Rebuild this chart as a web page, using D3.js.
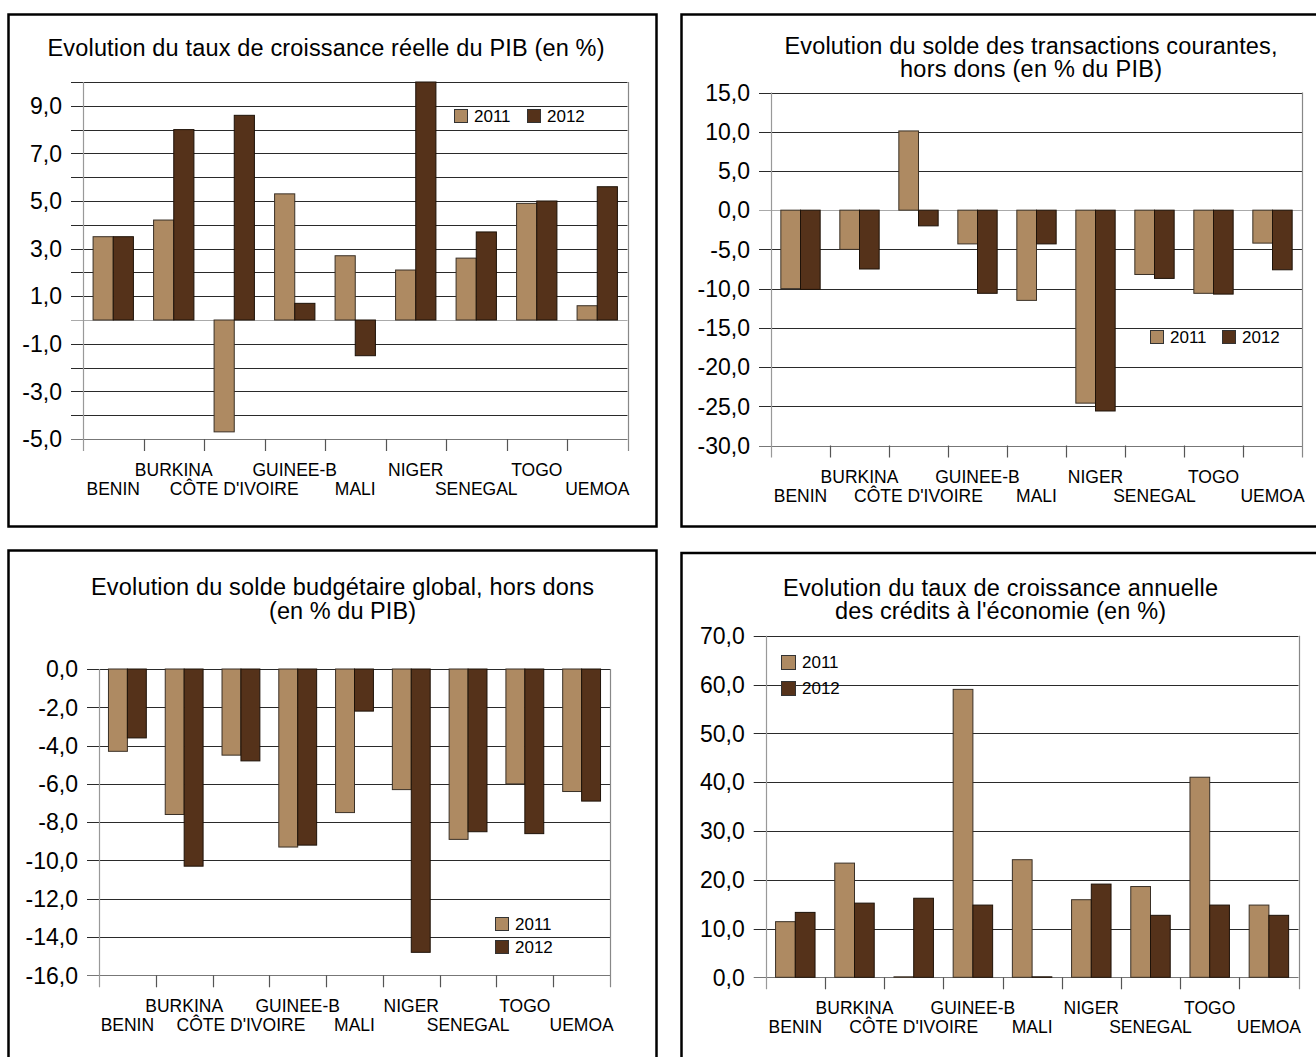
<!DOCTYPE html>
<html><head><meta charset="utf-8">
<script src="https://cdn.jsdelivr.net/npm/d3@7"></script>
<style>
body{margin:0;background:#fff}
svg{display:block}
text{font-family:"Liberation Sans",Arial,Helvetica,sans-serif;fill:#000}
</style>
</head><body>
<svg id="c" width="1316" height="1057"></svg>
<script>
// ---------- DATA ----------
const categories = ["BENIN","BURKINA","CÔTE D'IVOIRE","GUINEE-B","MALI","NIGER","SENEGAL","TOGO","UEMOA"];
const years = ["2011","2012"];

const pib2011 = [3.5, 4.2, -4.7, 5.3, 2.7, 2.1, 2.6, 4.9, 0.6];
const pib2012 = [3.5, 8.0, 8.6, 0.7, -1.5, 11.1, 3.7, 5.0, 5.6];
const pibTicks = [9, 7, 5, 3, 1, -1, -3, -5];

const transac2011 = [-10.0, -5.0, 10.1, -4.3, -11.5, -24.6, -8.2, -10.6, -4.2];
const transac2012 = [-10.1, -7.5, -2.0, -10.6, -4.3, -25.6, -8.7, -10.7, -7.6];
const transacTicks = [15, 10, 5, 0, -5, -10, -15, -20, -25, -30];

const budget2011 = [-4.3, -7.6, -4.5, -9.3, -7.5, -6.3, -8.9, -6.0, -6.4];
const budget2012 = [-3.6, -10.3, -4.8, -9.2, -2.2, -14.8, -8.5, -8.6, -6.9];
const budgetTicks = [0, -2, -4, -6, -8, -10, -12, -14, -16];

const credit2011 = [11.4, 23.4, 0.1, 59.0, 24.1, 15.9, 18.6, 41.0, 14.8];
const credit2012 = [13.3, 15.2, 16.2, 14.8, 0.1, 19.1, 12.7, 14.8, 12.7];
const creditTicks = [70, 60, 50, 40, 30, 20, 10, 0];

const titles = [
  ["Evolution du taux de croissance réelle du PIB (en %)"],
  ["Evolution du solde des transactions courantes,", "hors dons (en % du PIB)"],
  ["Evolution du solde budgétaire global, hors dons", "(en % du PIB)"],
  ["Evolution du taux de croissance annuelle", "des crédits à l'économie (en %)"]
];

const colors = {"2011": "#AE8A62", "2012": "#55321A"};

// ---------- LAYOUT ----------
const fmt = d3.formatLocale({decimal: ",", thousands: " ", grouping: [3], currency: ["", ""], minus: "-"}).format(".1f");

const panels = [
  { title: titles[0], tw: [557], tcx: 326, tby: [56],
    frame: [8.5, 14.5, 648, 512],
    xr: [83, 627.5], yr: [439, 82], dom: [-5, 10], gridStep: 1,
    ticks: pibTicks, s: [pib2011, pib2012], zeroGray: true,
    legend: {dir: "h", x: 454, y: 109, sw: 13, step: 73} },
  { title: titles[1], tw: [493, 262], tcx: 1031, tby: [54, 77],
    frame: [681.5, 14.5, 660, 512],
    xr: [771, 1302], yr: [445.5, 92.5], dom: [-30, 15], gridStep: 5,
    ticks: transacTicks, s: [transac2011, transac2012], zeroGray: true,
    legend: {dir: "h", x: 1150, y: 330, sw: 13, step: 72} },
  { title: titles[2], tw: [503, 147], tcx: 342.5, tby: [595, 619],
    frame: [8.5, 550.5, 648, 540],
    xr: [99, 610], yr: [975.3, 669], dom: [-16, 0], gridStep: 2,
    ticks: budgetTicks, s: [budget2011, budget2012], zeroGray: false,
    legend: {dir: "v", x: 495, y: 917, sw: 13, step: 23} },
  { title: titles[3], tw: [435, 331], tcx: 1000.5, tby: [596, 619],
    frame: [681.5, 553, 660, 540],
    xr: [765.7, 1298.5], yr: [977.3, 635.7], dom: [0, 70], gridStep: 10,
    ticks: creditTicks, s: [credit2011, credit2012], zeroGray: false,
    legend: {dir: "v", x: 781, y: 655, sw: 14, step: 26} }
];

const svg = d3.select("#c");

panels.forEach(p => {
  const g = svg.append("g");
  // frame
  g.append("rect").attr("x", p.frame[0]).attr("y", p.frame[1])
    .attr("width", p.frame[2]).attr("height", p.frame[3])
    .attr("fill", "#fff").attr("stroke", "#000").attr("stroke-width", 2.5);

  // title
  p.title.forEach((t, i) => {
    g.append("text").attr("x", p.tcx).attr("y", p.tby[i])
      .attr("text-anchor", "middle").attr("font-size", 23.5)
      .attr("textLength", p.tw[i]).attr("lengthAdjust", "spacing")
      .text(t);
  });

  const x = d3.scaleBand().domain(categories).range(p.xr).padding(0);
  const bw = x.bandwidth();
  const xs = d3.scaleBand().domain(years).range([bw / 6, bw * 5 / 6]).padding(0);
  const y = d3.scaleLinear().domain(p.dom).range(p.yr).clamp(true);

  const gridVals = d3.range(p.dom[0], p.dom[1] + p.gridStep / 2, p.gridStep);
  const x0 = p.xr[0], x1 = p.xr[1];
  const bottomY = y(p.dom[0]);

  // gridlines (extend left as tick marks)
  g.append("g").selectAll("line").data(gridVals).join("line")
    .attr("x1", x0 - 12).attr("x2", x1)
    .attr("y1", d => Math.round(y(d)) + 0.5).attr("y2", d => Math.round(y(d)) + 0.5)
    .attr("stroke", d => (d === 0 && p.zeroGray) ? "#aaa" : (d === p.dom[0] ? "#777" : "#2a2a2a"))
    .attr("stroke-width", 1.1);

  // value axis line & right border
  g.append("line").attr("x1", Math.round(x0) + 0.5).attr("x2", Math.round(x0) + 0.5)
    .attr("y1", y(p.dom[1])).attr("y2", bottomY + 12)
    .attr("stroke", "#999").attr("stroke-width", 1.2);
  g.append("line").attr("x1", Math.round(x1) + 0.5).attr("x2", Math.round(x1) + 0.5)
    .attr("y1", y(p.dom[1])).attr("y2", bottomY + 12)
    .attr("stroke", "#888").attr("stroke-width", 1.2);

  // category tick marks at band boundaries
  const bounds = categories.map(c => x(c)).concat([x1]);
  g.append("g").selectAll("line").data(bounds.slice(1, -1)).join("line")
    .attr("x1", d => Math.round(d) + 0.5).attr("x2", d => Math.round(d) + 0.5)
    .attr("y1", bottomY).attr("y2", bottomY + 12)
    .attr("stroke", "#555").attr("stroke-width", 1.2);

  // value tick labels
  g.append("g").selectAll("text").data(p.ticks).join("text")
    .attr("x", x0 - 21).attr("y", d => y(d)).attr("dy", "0.36em")
    .attr("text-anchor", "end").attr("font-size", 23)
    .text(d => fmt(d));

  // bars
  years.forEach((yr, si) => {
    const vals = p.s[si];
    g.append("g").selectAll("rect").data(categories).join("rect")
      .attr("x", (c) => x(c) + xs(yr))
      .attr("width", xs.bandwidth())
      .attr("y", (c, i) => Math.min(y(vals[i]), y(0)))
      .attr("height", (c, i) => Math.abs(y(vals[i]) - y(0)))
      .attr("fill", colors[yr])
      .attr("stroke", si === 0 ? "#3a3026" : "#1e1208")
      .attr("stroke-width", 1);
  });

  // category labels (staggered)
  g.append("g").selectAll("text").data(categories).join("text")
    .attr("x", c => x(c) + bw / 2)
    .attr("y", (c, i) => bottomY + (i % 2 === 0 ? 56 : 37))
    .attr("text-anchor", "middle").attr("font-size", 17.5)
    .text(c => c);

  // legend
  const L = p.legend;
  years.forEach((yr, i) => {
    const lx = L.dir === "h" ? L.x + i * L.step : L.x;
    const ly = L.dir === "h" ? L.y : L.y + i * L.step;
    g.append("rect").attr("x", lx + 0.5).attr("y", ly + 0.5)
      .attr("width", L.sw).attr("height", L.sw)
      .attr("fill", colors[yr]).attr("stroke", "#333").attr("stroke-width", 1);
    g.append("text").attr("x", lx + L.sw + 7).attr("y", ly + L.sw / 2).attr("dy", "0.36em")
      .attr("font-size", 17).text(yr);
  });
});
</script>
</body></html>
